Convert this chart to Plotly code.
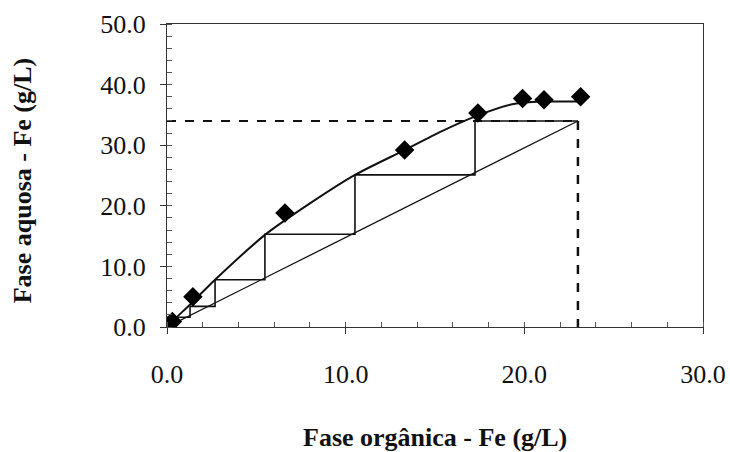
import plotly.graph_objects as go

# experimental equilibrium points (organic Fe, aqueous Fe)
pts_x = [0.05, 0.3, 1.45, 6.6, 13.3, 17.4, 19.9, 21.1, 23.15]
pts_y = [0.2, 0.9, 5.0, 18.8, 29.2, 35.3, 37.7, 37.5, 38.0]

# fitted equilibrium curve
curve_x = [0.0, 0.5, 1.25, 2.69, 5.48, 8.0, 10.52, 13.3, 15.3, 17.3, 19.4, 21.0, 23.1]
curve_y = [0.0, 1.5, 3.6, 7.8, 15.2, 20.4, 25.1, 29.2, 32.2, 34.8, 36.8, 37.2, 37.2]

# operating line
op_x = [0.0, 23.0]
op_y = [0.0, 34.0]

# McCabe-Thiele stages
stair_x = [23.0, 17.24, 17.24, 10.52, 10.52, 5.48, 5.48, 2.69, 2.69, 1.29, 1.29, 0.5, 0.5]
stair_y = [34.0, 34.0, 25.1, 25.1, 15.3, 15.3, 7.8, 7.8, 3.4, 3.4, 1.6, 1.6, 0.7]

# dashed guide lines
guide_h_x = [0.0, 23.0]
guide_h_y = [34.0, 34.0]
guide_v_x = [23.0, 23.0]
guide_v_y = [34.0, 0.0]

fig = go.Figure()
fig.add_trace(go.Scatter(x=guide_h_x, y=guide_h_y, mode="lines",
                         line=dict(color="#111", width=2, dash="dash")))
fig.add_trace(go.Scatter(x=guide_v_x, y=guide_v_y, mode="lines",
                         line=dict(color="#111", width=2.5, dash="dash")))
fig.add_trace(go.Scatter(x=op_x, y=op_y, mode="lines",
                         line=dict(color="#111", width=1.3)))
fig.add_trace(go.Scatter(x=stair_x, y=stair_y, mode="lines",
                         line=dict(color="#111", width=1.6)))
fig.add_trace(go.Scatter(x=curve_x, y=curve_y, mode="lines",
                         line=dict(color="#111", width=2, shape="spline", smoothing=0.7)))
fig.add_trace(go.Scatter(x=pts_x, y=pts_y, mode="markers",
                         marker=dict(symbol="diamond", size=15, color="#000")))

serif = "Liberation Serif, Times New Roman, serif"
fig.update_layout(
    width=730, height=452,
    margin=dict(l=167, r=27, t=24, b=125),
    paper_bgcolor="white", plot_bgcolor="white",
    showlegend=False,
    font=dict(family=serif, size=26, color="#111"),
    annotations=[
        dict(text="<b>Fase orgânica - Fe (g/L)</b>", xref="paper", yref="paper",
             x=0.5, y=-0.366, xanchor="center", yanchor="middle",
             showarrow=False, font=dict(size=26)),
        dict(text="<b>Fase aquosa - Fe (g/L)</b>", xref="paper", yref="paper",
             x=-0.27, y=0.485, xanchor="center", yanchor="middle", textangle=-90,
             showarrow=False, font=dict(size=26)),
    ],
)
fig.update_xaxes(
    range=[0, 30], dtick=10, tickformat=".1f", automargin=False,
    showgrid=False, zeroline=False,
    showline=True, linecolor="#333", linewidth=1, mirror=True,
    ticks="outside", ticklen=6, tickcolor="#333",
    ticklabelstandoff=18,
    minor=dict(dtick=2, ticks="inside", ticklen=5, tickcolor="#555"),
)
fig.update_yaxes(
    range=[0, 50], dtick=10, tickformat=".1f", automargin=False,
    showgrid=False, zeroline=False,
    showline=True, linecolor="#333", linewidth=1, mirror=True,
    ticks="outside", ticklen=6, tickcolor="#333",
    ticklabelstandoff=9,
    minor=dict(dtick=2, ticks="inside", ticklen=5, tickcolor="#555"),
)
fig.write_html(
    "out.html",
    config={"displayModeBar": False},
    post_script="document.body.style.margin='0';document.body.style.overflow='hidden';",
)
